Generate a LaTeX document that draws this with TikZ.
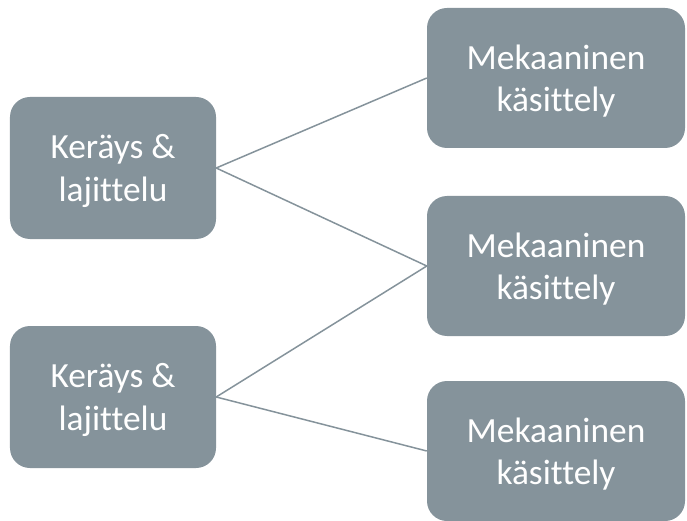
\documentclass[tikz,border=0pt]{standalone}
\usepackage{fontspec}
\setmainfont{Carlito}[Ligatures={NoCommon}]
\definecolor{boxgray}{HTML}{85939B}
\begin{document}
\begin{tikzpicture}[x=1bp,y=-1bp,
  box/.style={fill=boxgray, draw=none, rounded corners=20bp, inner sep=0pt},
  label text/.style={text=white, align=center, inner sep=0pt,
    font=\fontsize{35.5}{43}\selectfont},
  leftbox/.style={box, minimum width=206bp, minimum height=142bp},
  rightbox/.style={box, minimum width=258bp, minimum height=140bp},
  link/.style={draw=boxgray, line width=1.5bp}]
\useasboundingbox (0,0) rectangle (687,521);
\node[leftbox] (l1) at (113,168) {};
\node[leftbox] (l2) at (113,397) {};
\node[rightbox] (r1) at (556,78) {};
\node[rightbox] (r2) at (556,266) {};
\node[rightbox] (r3) at (556,451) {};
\node[label text] (l1t) at ([yshift=-3bp]l1.center) {Keräys \&\\lajittelu};
\node[label text] (l2t) at ([yshift=-3bp]l2.center) {Keräys \&\\lajittelu};
\node[label text] (r1t) at ([yshift=-3bp]r1.center) {Mekaaninen\\käsittely};
\node[label text] (r2t) at ([yshift=-3bp]r2.center) {Mekaaninen\\käsittely};
\node[label text] (r3t) at ([yshift=-3bp]r3.center) {Mekaaninen\\käsittely};
\draw[link] (l1.east) -- (r1.west);
\draw[link] (l1.east) -- (r2.west);
\draw[link] (l2.east) -- (r2.west);
\draw[link] (l2.east) -- (r3.west);
\end{tikzpicture}
\end{document}
